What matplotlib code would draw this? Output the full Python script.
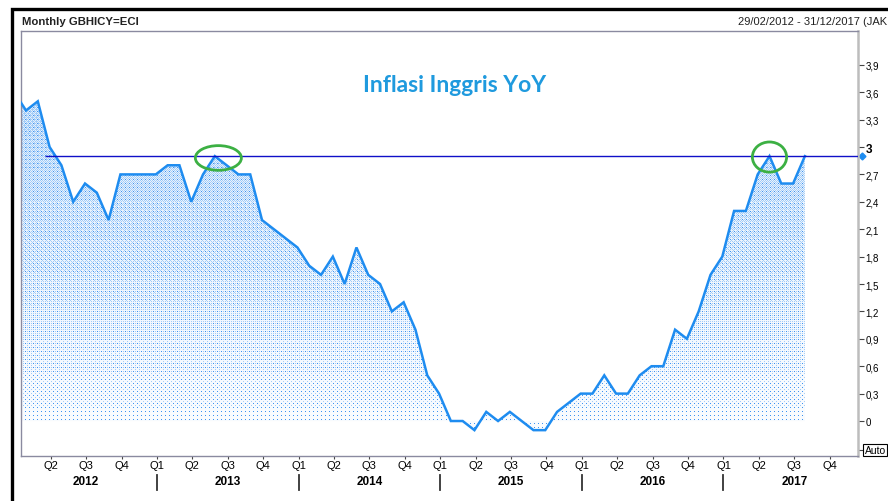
import numpy as np
import matplotlib.pyplot as plt
from matplotlib import transforms
from matplotlib.patches import Ellipse, Rectangle

plt.rcParams['font.family'] = ['Liberation Sans', 'DejaVu Sans']

# UK HICP YoY (%), monthly from Jan 2012 to Aug 2017
cpi_yoy = [3.6, 3.4, 3.5, 3.0, 2.8, 2.4, 2.6, 2.5, 2.2, 2.7, 2.7, 2.7,
           2.7, 2.8, 2.8, 2.4, 2.7, 2.9, 2.8, 2.7, 2.7, 2.2, 2.1, 2.0,
           1.9, 1.7, 1.6, 1.8, 1.5, 1.9, 1.6, 1.5, 1.2, 1.3, 1.0, 0.5,
           0.3, 0.0, 0.0, -0.1, 0.1, 0.0, 0.1, 0.0, -0.1, -0.1, 0.1, 0.2,
           0.3, 0.3, 0.5, 0.3, 0.3, 0.5, 0.6, 0.6, 1.0, 0.9, 1.2, 1.6,
           1.8, 2.3, 2.3, 2.7, 2.9, 2.6, 2.6, 2.9]
years = [2012, 2013, 2014, 2015, 2016, 2017]
quarters = ["Q1", "Q2", "Q3", "Q4"]
y_ticks = [0, 0.3, 0.6, 0.9, 1.2, 1.5, 1.8, 2.1, 2.4, 2.7, 3.0, 3.3, 3.6, 3.9]
last_value = cpi_yoy[-1]
# peaks circled in the original
circled = [(17.3, 2.88, 3.9, 0.27), (64.0, 2.89, 2.9, 0.33)]

# figure layout in pixels
FW, FH = 888, 502
AX_L, AX_R, AX_T, AX_B = 21, 858, 32, 457
XLIM = (0.576, 71.5)
YLIM = (-0.383, 4.27)

fig = plt.figure(figsize=(FW / 100, FH / 100), dpi=100)
ax = fig.add_axes([AX_L / FW, 1 - AX_B / FH, (AX_R - AX_L) / FW, (AX_B - AX_T) / FH])
ax.set_xlim(*XLIM)
ax.set_ylim(*YLIM)

idx = np.arange(len(cpi_yoy))

# dithered gradient fill under the line
W, H = AX_R - AX_L, AX_B - AX_T
bayer = np.array([[0, 8, 2, 10], [12, 4, 14, 6], [3, 11, 1, 9], [15, 7, 13, 5]])
rows = np.arange(H)
vals = YLIM[1] - (rows + 0.5) * (YLIM[1] - YLIM[0]) / H
norm = np.clip(vals / 3.6, 0, 1)
dens = 0.07 + 0.6 * norm
B = bayer[np.ix_(rows % 4, np.arange(W) % 4)]
on = (B + 0.5) / 16 < dens[:, None]
tint = 0.12 + 0.45 * norm
base = 1 - tint[:, None] * (1 - np.array([0.80, 0.89, 0.985]))
img = np.ones((H, W, 4))
img[:, :, :3] = base[:, None, :]
dark = np.array([0.24, 0.58, 0.95, 1.0])
light = np.array([0.64, 0.80, 0.97, 1.0])
img[on & (B == 0)] = dark
img[on & (B != 0)] = light
im = ax.imshow(img, extent=(XLIM[0], XLIM[1], YLIM[0], YLIM[1]), origin='upper',
               aspect='auto', interpolation='nearest', zorder=1)
poly = ax.fill_between(idx, cpi_yoy, 0, facecolor='none', edgecolor='none')
im.set_clip_path(poly.get_paths()[0], transform=ax.transData)

ax.plot(idx, cpi_yoy, color='#1e8cf0', lw=1.8, zorder=3, solid_joinstyle='miter')

# last value line + marker
ax.hlines(last_value, 2.6, XLIM[1], color='#1010c8', lw=1, zorder=4)
blend = transforms.blended_transform_factory(ax.transAxes, ax.transData)
ax.plot([1.005], [last_value], marker='D', ms=3.5, color='#1e8cf0', transform=blend, clip_on=False)

for cx, cy, w, h in circled:
    ax.add_patch(Ellipse((cx, cy), w, h, fill=False, edgecolor='#3cb043', lw=2, zorder=5))

# y axis on the right
ax.yaxis.tick_right()
ax.set_yticks(y_ticks)
labels = []
for v in y_ticks:
    s = f"{v:.1f}".replace('.', ',')
    labels.append(s[:-2] if s.endswith(',0') else s)
ax.set_yticklabels(labels)
ax.tick_params(axis='y', length=4, width=0.8, color='#444444', labelsize=7, pad=1.5)
for t in ax.get_yticklabels():
    if t.get_text() == "3":
        t.set_fontweight('bold')
        t.set_fontsize(8.5)
ax.plot([1.0, 1.006], [-0.32, -0.32], color='#444444', lw=0.8, transform=blend, clip_on=False)
ax.text(1.008, -0.32, "Auto", transform=blend, fontsize=7.5, va='center', ha='left',
        bbox=dict(boxstyle='square,pad=0.12', facecolor='white', edgecolor='black', lw=0.8))

# x axis: quarters and years
q_pos = [3 * k + 0.1 for k in range(1, 4 * len(years))]
ax.set_xticks(q_pos)
ax.set_xticklabels([quarters[k % 4] for k in range(1, 4 * len(years))])
ax.tick_params(axis='x', length=2, width=0.8, color='#444444', labelsize=8, pad=1)
xblend = transforms.blended_transform_factory(ax.transData, ax.transAxes)
for i, yr in enumerate(years):
    ax.text(12 * i + 6.1, -0.059, str(yr), transform=xblend, ha='center', va='center',
            fontsize=8.5, fontweight='bold')
    if i > 0:
        ax.plot([12 * i + 0.1] * 2, [-0.045, -0.08], color='#333333', lw=1.3,
                transform=xblend, clip_on=False)

for side in ['left', 'top', 'bottom']:
    ax.spines[side].set_color('#8a8aa0')
    ax.spines[side].set_linewidth(1)
ax.spines['right'].set_color('#bdbdbd')
ax.spines['right'].set_linewidth(1.8)

# header texts
fig.text(22 / FW, 1 - 22 / FH, "Monthly GBHICY=ECI", fontsize=8.2, fontweight='bold',
         color='#222222', va='center', ha='left')
fig.text(887 / FW, 1 - 22 / FH, "29/02/2012 - 31/12/2017 (JAK", fontsize=8,
         color='#222222', va='center', ha='right')
fig.text(455 / FW, 1 - 86 / FH, "Inflasi Inggris YoY", fontsize=16.5, fontweight='bold',
         color='#1f9ade', va='center', ha='center', family=['Lato', 'DejaVu Sans'])

# outer window frame
fig.patches.append(Rectangle((11.5 / FW, -0.1), 1.2, 1 - 10 / FH + 0.1, transform=fig.transFigure,
                             fill=False, edgecolor='black', lw=2.4))

fig.savefig('out.png', dpi=100)
